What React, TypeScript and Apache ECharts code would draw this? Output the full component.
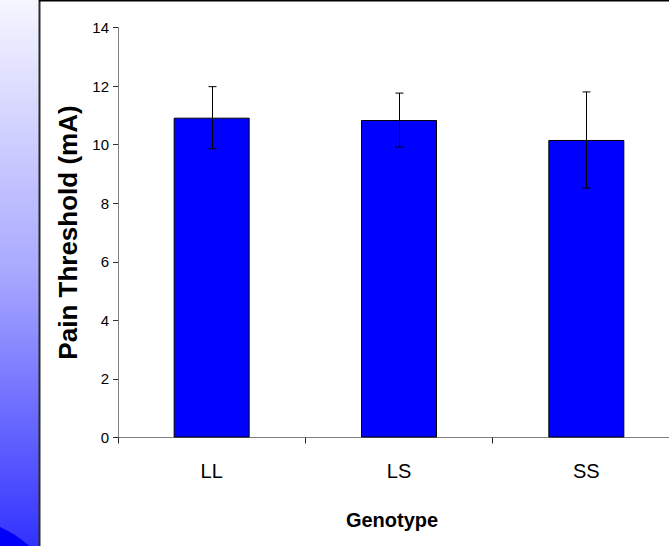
import React, { useEffect, useRef } from "react";
import * as echarts from "echarts";

const categories = ["LL", "LS", "SS"];
const means = [10.92, 10.84, 10.16];
const errors = [1.06, 0.92, 1.64];
const yTicks = [0, 2, 4, 6, 8, 10, 12, 14];

export default function App() {
  const ref = useRef<HTMLDivElement>(null);
  useEffect(() => {
    document.body.style.margin = "0";
    document.body.style.overflow = "hidden";
    const chart = echarts.init(ref.current!, null, { renderer: "svg" });
    const errData = categories.map((_, i) => [i, means[i] - errors[i], means[i] + errors[i]]);
    chart.setOption({
      animation: false,
      backgroundColor: "#ffffff",
      textStyle: { fontFamily: "Liberation Sans, Arial, sans-serif" },
      graphic: [
        {
          type: "rect",
          shape: { x: 0, y: 0, width: 39, height: 546 },
          style: {
            fill: new echarts.graphic.LinearGradient(0, 0, 0, 1, [
              { offset: 0, color: "#f6f6ff" },
              { offset: 0.5, color: "#a8a8ff" },
              { offset: 1, color: "#3232ff" },
            ]),
          },
          silent: true,
          z: 0,
        },
        {
          type: "polygon",
          shape: {
            points: [
              [0, 527],
              [8, 531],
              [15, 535],
              [22, 540],
              [28, 545],
              [30, 546],
              [0, 546],
            ],
          },
          style: { fill: "#0000f8" },
          silent: true,
          z: 1,
        },
        {
          type: "line",
          shape: { x1: 39.5, y1: 0, x2: 39.5, y2: 546 },
          style: { stroke: "#2a2a2a", lineWidth: 2 },
          silent: true,
          z: 2,
        },
        {
          type: "line",
          shape: { x1: 39, y1: 0.5, x2: 700, y2: 0.5 },
          style: { stroke: "#000000", lineWidth: 2 },
          silent: true,
          z: 2,
        },
      ],
      grid: { left: 118, top: 27.5, width: 562, height: 410, containLabel: false },
      xAxis: {
        type: "category",
        data: categories,
        name: "Genotype",
        nameLocation: "middle",
        nameGap: 72,
        nameTextStyle: { fontSize: 20, fontWeight: "bold", color: "#000", padding: [0, 14, 0, 0] },
        axisLine: { lineStyle: { color: "#808080", width: 1 } },
        axisTick: { show: true, length: 6, lineStyle: { color: "#202020" } },
        axisLabel: { fontSize: 20, color: "#000", margin: 23 },
        splitLine: { show: false },
      },
      yAxis: {
        type: "value",
        min: 0,
        max: 14,
        interval: 2,
        name: "Pain Threshold (mA)",
        nameLocation: "middle",
        nameGap: 31,
        nameRotate: 90,
        nameTextStyle: { fontSize: 26, fontWeight: "bold", color: "#000" },
        axisLine: { show: true, lineStyle: { color: "#808080", width: 1 } },
        axisTick: { show: true, length: 5, lineStyle: { color: "#303030" } },
        axisLabel: {
          fontSize: 15,
          color: "#000",
          margin: 9,
          formatter: (v: number) => (yTicks.includes(v) ? String(v) : ""),
        },
        splitLine: { show: false },
      },
      series: [
        {
          type: "bar",
          data: means,
          barWidth: 76,
          itemStyle: { color: "#0000ff", borderColor: "#000000", borderWidth: 1 },
          z: 2,
        },
        {
          type: "custom",
          data: errData,
          z: 5,
          renderItem: (params: any, api: any) => {
            const idx = api.value(0);
            const lo = api.coord([idx, api.value(1)]);
            const hi = api.coord([idx, api.value(2)]);
            const x = Math.round(lo[0]) + 0.5;
            const cap = 4;
            const style = { stroke: "#000000", lineWidth: 1 };
            return {
              type: "group",
              children: [
                { type: "line", shape: { x1: x, y1: hi[1], x2: x, y2: lo[1] }, style },
                { type: "line", shape: { x1: x - cap, y1: hi[1], x2: x + cap, y2: hi[1] }, style },
                { type: "line", shape: { x1: x - cap, y1: lo[1], x2: x + cap, y2: lo[1] }, style },
              ],
            };
          },
        },
      ],
    });
    return () => chart.dispose();
  }, []);
  return (
    <div
      ref={ref}
      style={{ position: "fixed", left: 0, top: 0, width: 700, height: 546 }}
    />
  );
}
